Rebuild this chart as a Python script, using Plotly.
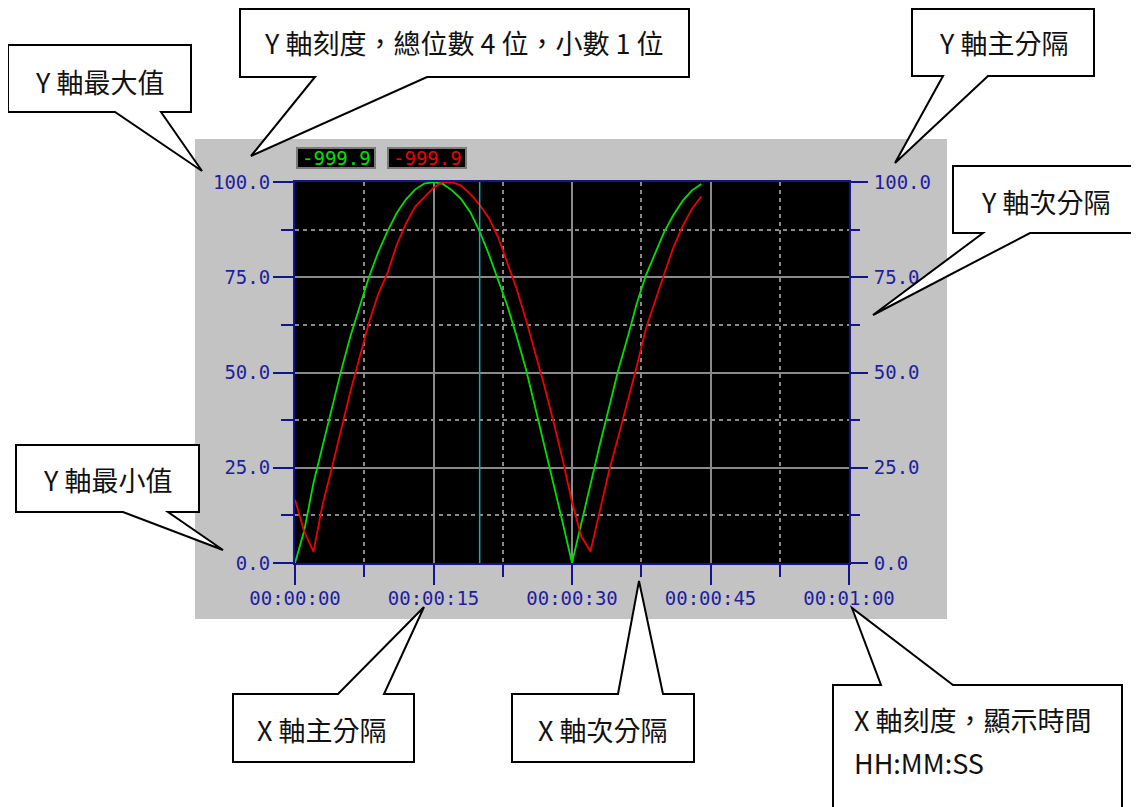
import plotly.graph_objects as go

# ---------------- data ----------------
t_sec = list(range(45))
pen_green = [0, 8.5, 21, 31, 41, 50.5, 59.5, 67.5, 75, 81.5,
             87, 91.8, 95.4, 98, 99.6, 100, 99.5, 97.8, 95.5, 92,
             87, 81, 74.5, 67.5, 59.5, 51, 41, 31, 20.8, 10.5,
             0, 10.5, 20.8, 30.9, 40.7, 50.5, 59, 68, 75.5, 81.5,
             87, 91.4, 95.1, 97.8, 99.5]
pen_red = [16.6, 8.2, 3.0, 15.5, 25, 35, 45, 54, 63, 70.5,
           76, 83.4, 89, 93.5, 96, 98.5, 100, 100, 99, 96.8,
           94, 90.5, 85.5, 79, 72, 64, 55.5, 46.5, 37, 27,
           16, 7, 3.0, 13.5, 24, 33, 42, 51.5, 61.5, 69,
           76, 83, 88.5, 93, 96.2]
cursor_sec = [20, 20]
cursor_val = [0, 100]
x_tick_vals = [0, 15, 30, 45, 60]
x_tick_text = ["00:00:00", "00:00:15", "00:00:30", "00:00:45", "00:01:00"]
y_tick_vals = [0, 25, 50, 75, 100]
pen_readouts = ["-999.9", "-999.9"]
callout_texts = ["Y 軸最大值", "Y 軸刻度，總位數 4 位，小數 1 位", "Y 軸主分隔",
                 "Y 軸次分隔", "Y 軸最小值", "X 軸主分隔", "X 軸次分隔",
                 "X 軸刻度，顯示時間", "HH:MM:SS"]

# ---------------- style ----------------
OFF = 8                       # page body margin of the html output
W, H = 1139 - OFF, 807 - OFF  # figure size
L, R, T, B = 295, 849, 182, 563   # plot box in page pixels
NAVY = "#14148f"
LBL = "#1e1e9e"
GRID = "#8a8a8a"
MONO = "DejaVu Sans Mono"
CJK = "Noto Sans CJK TC"


def px(x):
    return (x - L) / (R - L)


def py(y):
    return (B - y) / (B - T)


def path_of(pts):
    return "M " + " L ".join(f"{px(x):.5f},{py(y):.5f}" for x, y in pts) + " Z"


def bubble_bottom(l, t, r, b, bl, br, tip):
    return path_of([(l, t), (r, t), (r, b), (br, b), tip, (bl, b), (l, b)])


def bubble_top(l, t, r, b, bl, br, tip):
    return path_of([(l, t), (bl, t), tip, (br, t), (r, t), (r, b), (l, b)])


fig = go.Figure()
fig.add_trace(go.Scatter(x=t_sec, y=pen_green, mode="lines",
                         line=dict(color="#00e000", width=1.8), hoverinfo="skip"))
fig.add_trace(go.Scatter(x=t_sec, y=pen_red, mode="lines",
                         line=dict(color="#ee0000", width=1.8), hoverinfo="skip"))
fig.add_trace(go.Scatter(x=cursor_sec, y=cursor_val, mode="lines", yaxis="y2",
                         line=dict(color="#20a8b8", width=1.5), hoverinfo="skip"))

shapes = []
shapes.append(dict(type="rect", xref="paper", yref="paper", layer="below",
                   x0=px(195), x1=px(947), y0=py(619), y1=py(139),
                   fillcolor="#c3c3c3", line=dict(width=0)))
shapes.append(dict(type="rect", xref="paper", yref="paper", layer="below",
                   x0=0, x1=1, y0=0, y1=1, fillcolor="black", line=dict(width=0)))
for (x0, x1) in [(297, 375), (388, 466)]:
    shapes.append(dict(type="rect", xref="paper", yref="paper", layer="above",
                       x0=px(x0), x1=px(x1), y0=py(168), y1=py(148),
                       fillcolor="black", line=dict(color="#7a7a7a", width=2)))

bubbles = [
    bubble_bottom(8, 45, 191, 112, 115, 161, (202, 171)),
    bubble_bottom(240, 9, 689, 77, 315, 427, (251, 156)),
    bubble_bottom(912, 9, 1094, 76, 943, 988, (895, 163)),
    bubble_bottom(953, 166, 1138, 233, 983, 1030, (873, 315)),
    bubble_bottom(16, 445, 199, 512, 123, 168, (223, 550)),
    bubble_top(233, 694, 414, 762, 338, 384, (424, 607)),
    bubble_top(512, 694, 694, 762, 618, 663, (639, 581)),
    bubble_top(833, 685, 1122, 840, 881, 953, (852, 608)),
]
for p in bubbles:
    shapes.append(dict(type="path", xref="paper", yref="paper", layer="above",
                       path=p, fillcolor="white", line=dict(color="black", width=2)))

annotations = []
centers = [(99, 81), (464, 43), (1003, 43), (1045, 201), (107, 479),
           (322, 729), (603, 729)]
for txt, (cx, cy) in zip(callout_texts[:7], centers):
    annotations.append(dict(text=txt, x=px(cx), y=py(cy), xref="paper", yref="paper",
                            showarrow=False, xanchor="center", yanchor="middle",
                            font=dict(family=CJK, size=27, color="#111111")))
for txt, (lx, cy) in zip(callout_texts[7:], [(852, 719), (852, 762)]):
    annotations.append(dict(text=txt, x=px(lx), y=py(cy), xref="paper", yref="paper",
                            showarrow=False, xanchor="left", yanchor="middle",
                            font=dict(family=CJK, size=27, color="#111111")))
for txt, cx, col in zip(pen_readouts, [336, 427], ["#00e000", "#ee0000"]):
    annotations.append(dict(text=txt, x=px(cx), y=py(158), xref="paper", yref="paper",
                            showarrow=False, xanchor="center", yanchor="middle",
                            font=dict(family=MONO, size=19, color=col)))

tickfont = dict(family=MONO, size=19, color=LBL)

fig.update_layout(
    width=W, height=H,
    margin=dict(l=L - OFF, r=W - (R - OFF), t=T - OFF, b=H - (B - OFF), pad=0),
    paper_bgcolor="white", plot_bgcolor="black",
    showlegend=False,
    shapes=shapes, annotations=annotations,
    xaxis=dict(range=[0, 60], tickvals=x_tick_vals, ticktext=x_tick_text,
               ticks="outside", ticklen=20, tickwidth=2, tickcolor=NAVY,
               showline=True, linecolor=NAVY, linewidth=2, mirror=True,
               showgrid=True, gridcolor=GRID, gridwidth=1.5, zeroline=False,
               tickfont=tickfont, ticklabelstandoff=-3,
               minor=dict(dtick=7.5, tick0=0, ticks="outside", ticklen=12, tickwidth=2,
                          tickcolor=NAVY, showgrid=True, gridcolor=GRID, gridwidth=1.5,
                          griddash="4px,4px")),
    yaxis=dict(range=[0, 100], tickvals=y_tick_vals, tickformat=".1f",
               ticks="outside", ticklen=20, tickwidth=2, tickcolor=NAVY,
               showline=True, linecolor=NAVY, linewidth=2, mirror=True,
               showgrid=True, gridcolor=GRID, gridwidth=1.5, zeroline=False,
               tickfont=tickfont, ticklabelstandoff=-1,
               minor=dict(dtick=12.5, tick0=0, ticks="outside", ticklen=12, tickwidth=2,
                          tickcolor=NAVY, showgrid=True, gridcolor=GRID, gridwidth=1.5,
                          griddash="4px,4px")),
    yaxis2=dict(range=[0, 100], tickvals=y_tick_vals, tickformat=".1f",
                overlaying="y", side="right", anchor="x",
                ticks="outside", ticklen=18, tickwidth=2, tickcolor=NAVY,
                showline=False, showgrid=False, zeroline=False,
                tickfont=tickfont, ticklabelstandoff=2,
                minor=dict(dtick=12.5, tick0=0, ticks="outside", ticklen=10, tickwidth=2,
                           tickcolor=NAVY, showgrid=False)),
)

fig.write_html("out.html")
